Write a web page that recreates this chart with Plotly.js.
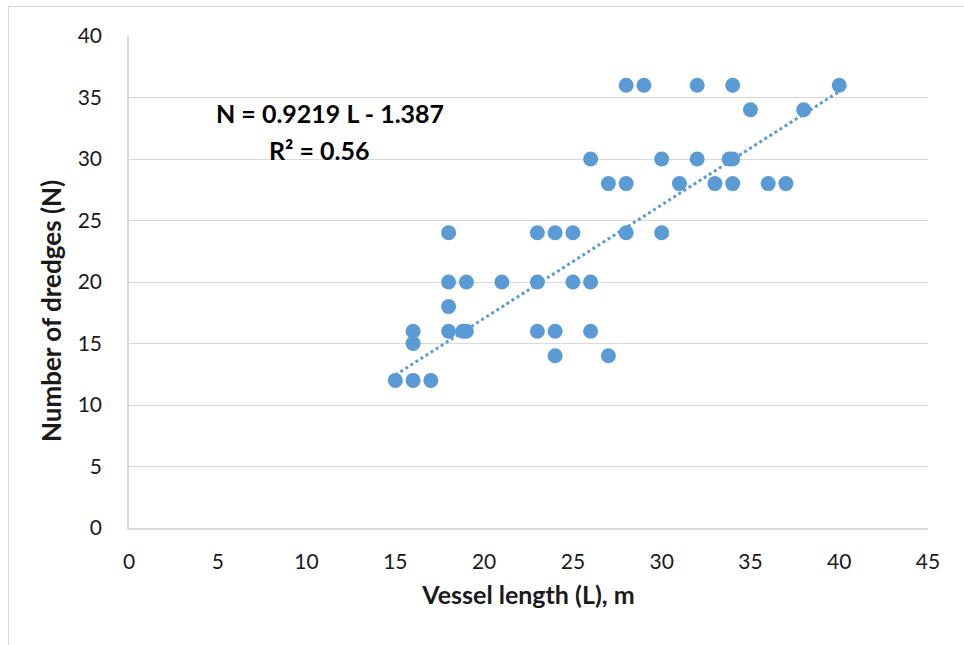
<!DOCTYPE html>
<html>
<head>
<meta charset="utf-8">
<script src="https://cdn.plot.ly/plotly-3.0.1.min.js"></script>
<style>
  html, body { margin: 0; padding: 0; background: #fff; }
  #frame { position: absolute; left: 8px; top: 6px; width: 960px; height: 645px; border-left: 1px solid #d9d9d9; border-top: 1px solid #d9d9d9; }
  #chart { position: absolute; left: 0; top: 0; width: 964px; height: 645px; }
</style>
</head>
<body>
<div id="frame"></div>
<div id="chart"></div>
<script>
// Vessel length (L), m
const vesselLength = [15, 16, 17, 16, 16, 18, 18, 18, 18, 18.8, 19, 19, 21,
  23, 23, 23, 24, 24, 24, 25, 25, 26, 26, 26, 27, 27,
  28, 28, 28, 29, 30, 30, 31, 32, 32, 33, 33.8, 34, 34, 34, 35, 36, 37, 38, 40];
// Number of dredges (N)
const dredges = [12, 12, 12, 16, 15, 24, 20, 18, 16, 16, 20, 16, 20,
  24, 20, 16, 24, 16, 14, 24, 20, 20, 16, 30, 28, 14,
  36, 28, 24, 36, 30, 24, 28, 36, 30, 28, 30, 36, 30, 28, 34, 28, 28, 34, 36];
// Linear trend line end points (N = 0.9219 L - 1.387)
const trendX = [15, 40];
const trendY = [12.44, 35.49];
const xTicks = [0, 5, 10, 15, 20, 25, 30, 35, 40, 45];
const yTicks = [0, 5, 10, 15, 20, 25, 30, 35, 40];

const blue = '#5b9bd5';
const fontFam = 'Lato, "Open Sans", sans-serif';
const txt = '#1a1a1a';

const data = [
  {
    x: trendX, y: trendY, type: 'scatter', mode: 'lines',
    line: { color: blue, width: 3, dash: 'dot' },
    hoverinfo: 'skip', showlegend: false
  },
  {
    x: vesselLength, y: dredges, type: 'scatter', mode: 'markers',
    marker: { color: blue, size: 15, line: { width: 0 } },
    showlegend: false
  }
];

const layout = {
  width: 964, height: 645,
  margin: { l: 129, r: 36, t: 36, b: 117 },
  paper_bgcolor: 'rgba(0,0,0,0)',
  plot_bgcolor: '#fff',
  font: { family: fontFam, color: txt, size: 21 },
  showlegend: false,
  xaxis: {
    range: [0, 45], tickvals: xTicks, ticktext: xTicks.map(String),
    showgrid: false, zeroline: false,
    showline: true, linecolor: '#d9d9d9', linewidth: 1.5,
    ticks: '', ticklabelstandoff: 14,
    tickfont: { family: fontFam, size: 21, color: txt },
    title: { text: 'Vessel length (L), m', font: { family: fontFam, size: 25, weight: 'bold', color: txt }, standoff: 15 }
  },
  yaxis: {
    range: [0, 40], tickvals: yTicks, ticktext: yTicks.map(String),
    showgrid: true, gridcolor: '#d9d9d9', gridwidth: 1.2, zeroline: false,
    showline: true, linecolor: '#d9d9d9', linewidth: 1.5,
    ticks: '', ticklabelstandoff: 21,
    tickfont: { family: fontFam, size: 21, color: txt },
    title: { text: '' }
  },
  annotations: [
    {
      xref: 'paper', yref: 'paper', x: -0.0976, y: 0.441, showarrow: false,
      textangle: -90, xanchor: 'center', yanchor: 'middle',
      text: 'Number of dredges (N)',
      font: { family: fontFam, size: 26, weight: 'bold', color: txt }
    },
    {
      xref: 'x', yref: 'y', x: 11.3, y: 33.7, showarrow: false,
      text: 'N = 0.9219 L - 1.387',
      font: { family: fontFam, size: 25, weight: 'bold', color: '#000' }
    },
    {
      xref: 'x', yref: 'y', x: 10.75, y: 30.7, showarrow: false,
      text: 'R² = 0.56',
      font: { family: fontFam, size: 25, weight: 'bold', color: '#000' }
    }
  ]
};

Plotly.newPlot('chart', data, layout, { displayModeBar: false, responsive: false });
</script>
</body>
</html>
